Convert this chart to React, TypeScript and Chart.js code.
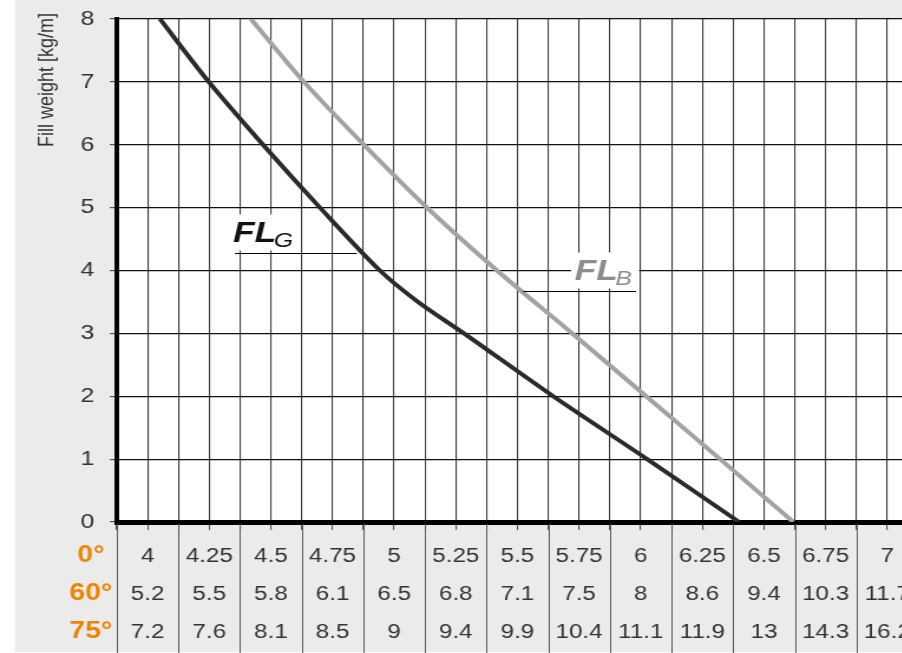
import React, { useEffect, useRef } from 'react';
import { Chart, registerables } from 'chart.js';

Chart.register(...registerables);

// ---------- data ----------
const Y_TITLE = 'Fill weight [kg/m]';
const Y_MIN = 0;
const Y_MAX = 8;
const Y_STEP = 1;

const X_MIN = 3.875;
const X_MAX = 7.125;
const X_STEP = 0.125;

// table under the x axis (columns centred on 4, 4.25, ... 7)
const COL_START = 4;
const COL_STEP = 0.25;
const ROW_LABELS = ['0°', '60°', '75°'];
const FLOW_0 = ['4', '4.25', '4.5', '4.75', '5', '5.25', '5.5', '5.75', '6', '6.25', '6.5', '6.75', '7'];
const FLOW_60 = ['5.2', '5.5', '5.8', '6.1', '6.5', '6.8', '7.1', '7.5', '8', '8.6', '9.4', '10.3', '11.7'];
const FLOW_75 = ['7.2', '7.6', '8.1', '8.5', '9', '9.4', '9.9', '10.4', '11.1', '11.9', '13', '14.3', '16.2'];

// FL G curve
const FLG_WEIGHT = [8, 7, 6, 5, 4, 3.5, 3, 2, 1, 0];
const FLG_FLOW = [4.05, 4.248, 4.468, 4.699, 4.942, 5.097, 5.283, 5.645, 6.026, 6.399];
// FL B curve
const FLB_WEIGHT = [8, 7, 6, 5, 4, 3, 2, 1, 0];
const FLB_FLOW = [4.419, 4.634, 4.877, 5.133, 5.417, 5.722, 6.022, 6.322, 6.619];

// curve labels (data coordinates of the underline)
const FLG_LABEL = { main: 'FL', sub: 'G', x0: 4.354, x1: 4.849, y: 4.277, align: 'left', color: '#111111' };
const FLB_LABEL = { main: 'FL', sub: 'B', x0: 5.523, x1: 5.981, y: 3.672, align: 'right', color: '#8c8c8c' };

// ---------- layout / style ----------
const STRETCH = 1.18;
const CANVAS_W = 790;
const CANVAS_H = 653;
const FONT = '"Liberation Sans", Arial, Helvetica, sans-serif';
const X_TICK_LEN = 8;
const X_TICK_PAD = 7;
const ROW_H = 38;
const GRAY_BG = '#ebebeb';
const ORANGE = '#f08300';

const bgPlugin = {
  id: 'bgPlugin',
  beforeDraw(chart: any) {
    const { ctx, chartArea: a, width, height } = chart;
    ctx.save();
    ctx.fillStyle = '#ffffff';
    ctx.fillRect(0, 0, width, height);
    ctx.fillStyle = GRAY_BG;
    ctx.fillRect(15 / STRETCH, 0, width, height - 1);
    ctx.fillStyle = '#ffffff';
    ctx.fillRect(a.left, a.top, a.right - a.left, a.bottom - a.top);
    ctx.restore();
  },
  afterDraw(chart: any) {
    const { ctx, chartArea: a, scales } = chart;
    const x = scales.x;
    ctx.save();
    // column separators through the table
    ctx.strokeStyle = '#5a5a5a';
    ctx.lineWidth = 1;
    for (let j = 0; j <= FLOW_0.length; j++) {
      const v = COL_START - COL_STEP / 2 + j * COL_STEP;
      if (v > X_MAX + 1e-9) break;
      const px = Math.round(x.getPixelForValue(v)) + 0.5;
      ctx.beginPath();
      ctx.moveTo(px, a.bottom + 2);
      ctx.lineTo(px, a.bottom + X_TICK_LEN + X_TICK_PAD + ROW_H * 3 + 6);
      ctx.stroke();
    }
    // row labels
    ctx.fillStyle = ORANGE;
    ctx.font = `bold 24px ${FONT}`;
    ctx.textAlign = 'center';
    ctx.textBaseline = 'middle';
    ROW_LABELS.forEach((lab, i) => {
      ctx.fillText(lab, 77, a.bottom + X_TICK_LEN + X_TICK_PAD + ROW_H * (i + 0.5) - 1);
    });
    // y title
    ctx.fillStyle = '#333333';
    ctx.font = `18px ${FONT}`;
    ctx.translate(40, 80);
    ctx.rotate(-Math.PI / 2);
    ctx.textAlign = 'center';
    ctx.textBaseline = 'middle';
    ctx.fillText(Y_TITLE, 0, 0);
    ctx.restore();
  },
};

function drawCurveLabel(chart: any, spec: any) {
  const { ctx, scales } = chart;
  const px0 = scales.x.getPixelForValue(spec.x0);
  const px1 = scales.x.getPixelForValue(spec.x1);
  const py = Math.round(scales.y.getPixelForValue(spec.y)) + 0.5;
  const mainFont = `italic bold 30px ${FONT}`;
  const subFont = `italic 21px ${FONT}`;
  ctx.save();
  ctx.font = mainFont;
  const wMain = ctx.measureText(spec.main).width;
  ctx.font = subFont;
  const wSub = ctx.measureText(spec.sub).width;
  const total = wMain + wSub - 2;
  const left = spec.align === 'left' ? px0 - 2 / STRETCH : px1 - 4 / STRETCH - total;
  const base = py - 12;
  ctx.fillStyle = '#ffffff';
  ctx.fillRect(left - 3, base - 27, total + 9, 36);
  ctx.strokeStyle = '#000000';
  ctx.lineWidth = 1;
  ctx.beginPath();
  ctx.moveTo(px0, py);
  ctx.lineTo(px1, py);
  ctx.stroke();
  ctx.fillStyle = spec.color;
  ctx.textAlign = 'left';
  ctx.textBaseline = 'alphabetic';
  ctx.font = mainFont;
  ctx.fillText(spec.main, left, base);
  ctx.font = subFont;
  ctx.fillText(spec.sub, left + wMain - 2, base + 5);
  ctx.restore();
}

const labelPlugin = {
  id: 'labelPlugin',
  afterDatasetsDraw(chart: any) {
    drawCurveLabel(chart, FLG_LABEL);
    drawCurveLabel(chart, FLB_LABEL);
  },
};

export default function App() {
  const ref = useRef<HTMLCanvasElement | null>(null);

  useEffect(() => {
    if (!ref.current) return;
    const chart = new Chart(ref.current, {
      type: 'line',
      data: {
        datasets: [
          {
            label: 'FLG',
            data: FLG_FLOW.map((x, i) => ({ x, y: FLG_WEIGHT[i] })),
            borderColor: '#2b2b2b',
            borderWidth: 4,
            pointRadius: 0,
            tension: 0.3,
            fill: false,
          },
          {
            label: 'FLB',
            data: FLB_FLOW.map((x, i) => ({ x, y: FLB_WEIGHT[i] })),
            borderColor: '#a3a3a3',
            borderWidth: 4,
            pointRadius: 0,
            tension: 0.3,
            fill: false,
          },
        ],
      },
      options: {
        responsive: false,
        animation: false,
        devicePixelRatio: 1,
        layout: { padding: { top: 19, right: 12, bottom: 0, left: 0 } },
        plugins: {
          legend: { display: false },
          tooltip: { enabled: false },
          title: { display: false },
        },
        scales: {
          x: {
            type: 'linear',
            position: 'bottom',
            min: X_MIN,
            max: X_MAX,
            afterFit: (s: any) => {
              s.height = CANVAS_H - 522;
              s.paddingLeft = 0;
              s.paddingRight = 0;
            },
            ticks: {
              stepSize: X_STEP,
              autoSkip: false,
              maxRotation: 0,
              minRotation: 0,
              padding: X_TICK_PAD,
              color: '#333333',
              font: { family: FONT, size: 20.5, lineHeight: `${ROW_H}px` },
              callback: (v: any) => {
                const val = Number(v);
                const c = Math.round((val - COL_START) / COL_STEP);
                if (c >= 0 && c < FLOW_0.length && Math.abs(COL_START + c * COL_STEP - val) < 1e-6) {
                  return [FLOW_0[c], FLOW_60[c], FLOW_75[c]];
                }
                return '';
              },
            },
            grid: {
              color: '#3c3c3c',
              lineWidth: 1.1,
              tickLength: X_TICK_LEN,
              tickColor: '#555555',
              drawTicks: true,
            },
            border: { display: true, color: '#000000', width: 5 },
          },
          y: {
            min: Y_MIN,
            max: Y_MAX,
            afterFit: (s: any) => {
              s.width = 99;
              s.paddingTop = 0;
              s.paddingBottom = 0;
            },
            ticks: {
              stepSize: Y_STEP,
              padding: 13,
              color: '#333333',
              font: { family: FONT, size: 21 },
            },
            grid: {
              color: '#111111',
              lineWidth: 1.2,
              tickLength: 6,
              tickColor: '#555555',
            },
            border: { display: true, color: '#000000', width: 4 },
          },
        },
      } as any,
      plugins: [bgPlugin, labelPlugin],
    });
    return () => chart.destroy();
  }, []);

  return (
    <div
      style={{
        position: 'fixed',
        left: 0,
        top: 0,
        width: 902,
        height: 653,
        overflow: 'hidden',
        background: '#ffffff',
      }}
    >
      <div
        style={{
          width: CANVAS_W,
          height: CANVAS_H,
          transform: `scaleX(${STRETCH})`,
          transformOrigin: '0 0',
        }}
      >
        <canvas
          ref={ref}
          width={CANVAS_W}
          height={CANVAS_H}
          style={{ display: 'block', width: CANVAS_W, height: CANVAS_H }}
        />
      </div>
    </div>
  );
}
